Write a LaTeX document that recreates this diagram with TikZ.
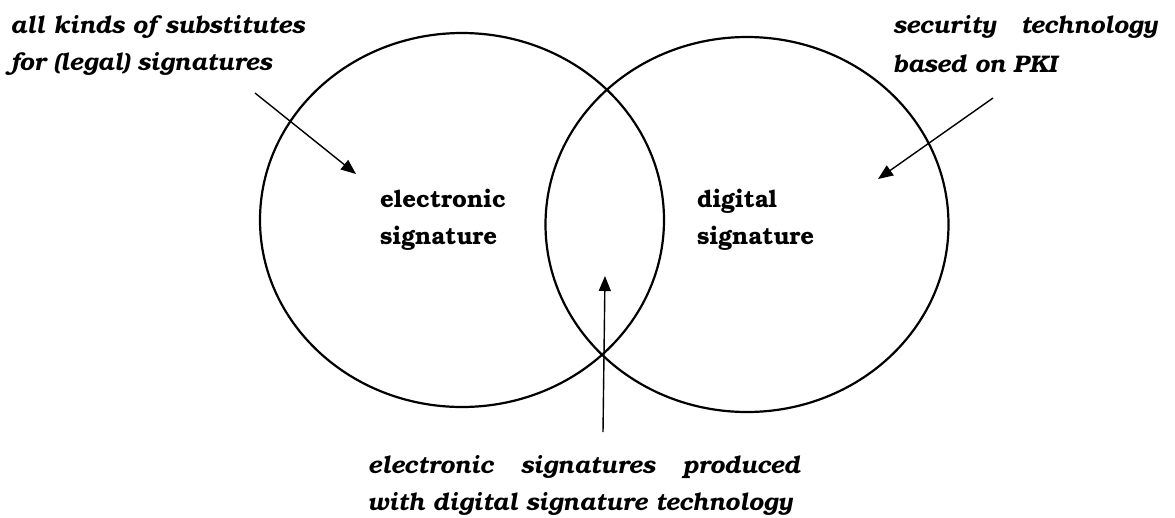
\documentclass[tikz,border=0pt]{standalone}
\usepackage{fontspec}
\setmainfont{texgyrebonum}[Extension=.otf, UprightFont=*-regular, BoldFont=*-bold, ItalicFont=*-italic, BoldItalicFont=*-bolditalic]
\usetikzlibrary{arrows.meta,shapes.geometric}
\begin{document}
\begin{tikzpicture}[x=1pt,y=-1pt,
  venn/.style={draw,line width=2.2pt},
  note/.style={inner sep=0pt,anchor=base west,font=\fontsize{24}{28}\selectfont\bfseries\itshape},
  inner/.style={inner sep=0pt,anchor=base west,font=\fontsize{24}{28}\selectfont\bfseries},
  pointer/.style={line width=1.4pt,-{Triangle[length=15pt,width=12pt]}}]
\useasboundingbox (0,0) rectangle (1175,517);
% circles
\node[venn,ellipse,minimum width=404pt,minimum height=374pt,inner sep=0pt] (el) at (462,220) {};
\node[venn,ellipse,minimum width=403pt,minimum height=375pt,inner sep=0pt] (dg) at (747,224.5) {};
% labels inside
\node[inner] (e1) at (380,207) {electronic};
\node[inner] (e2) at (380,244) {signature};
\node[inner] (d1) at (697,207) {digital};
\node[inner] (d2) at (697,244) {signature};
% notes
\node[note] (tl1) at (10,33) {all kinds of substitutes};
\node[note] (tl2) at (10,70) {for (legal) signatures};
\node[note] (tr1) at (893,33) {\makebox[264pt][s]{security technology}};
\node[note] (tr2) at (893,72) {based on PKI};
\node[note] (b1) at (368,473) {\makebox[432pt][s]{electronic signatures produced}};
\node[note] (b2) at (368,510) {with digital signature technology};
% pointers
\coordinate (a1s) at (255,93);
\coordinate (a1e) at (356,174);
\coordinate (a2s) at (993,98);
\coordinate (a2e) at (878,179);
\coordinate (a3s) at (603,432);
\coordinate (a3e) at (605,276);
\draw[pointer] (a1s) -- (a1e);
\draw[pointer] (a2s) -- (a2e);
\draw[pointer] (a3s) -- (a3e);
\end{tikzpicture}
\end{document}
